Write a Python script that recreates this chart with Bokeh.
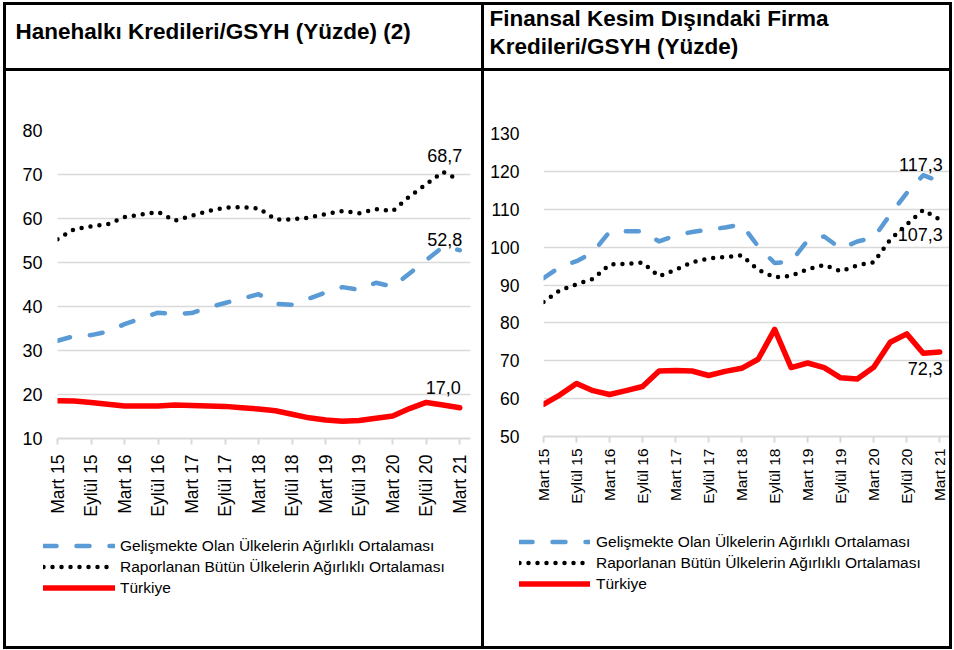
import math
from bokeh.plotting import figure
from bokeh.models import Range1d, FixedTicker, Legend, LegendItem, ColumnDataSource
from bokeh.layouts import row, column
from bokeh.embed import file_html
from bokeh.resources import INLINE
from bokeh.core.properties import value

# ---------------- data ----------------
quarters = list(range(25))  # Mart 15 ... Mart 21, quarterly
tick_labels = ["Mart 15", "Eylül 15", "Mart 16", "Eylül 16", "Mart 17", "Eylül 17",
               "Mart 18", "Eylül 18", "Mart 19", "Eylül 19", "Mart 20", "Eylül 20", "Mart 21"]
series_names = ["Gelişmekte Olan Ülkelerin Ağırlıklı Ortalaması",
                "Raporlanan Bütün Ülkelerin Ağırlıklı Ortalaması",
                "Türkiye"]

title_left = ["Hanehalkı Kredileri/GSYH (Yüzde) (2)"]
title_right = ["Finansal Kesim Dışındaki Firma", "Kredileri/GSYH (Yüzde)"]

hh_em = [32.2, 33.3, 33.5, 34.3, 36.0, 37.3, 38.6, 38.3, 38.5, 39.8, 40.8, 41.8, 42.8,
         40.6, 40.4, 41.8, 43.2, 44.4, 43.8, 45.4, 44.5, 47.5, 50.5, 53.6, 52.8]
hh_all = [55.3, 57.6, 58.2, 58.7, 60.3, 60.9, 61.5, 59.5, 60.6, 61.7, 62.5, 62.6, 62.3,
          59.8, 59.8, 60.2, 61.0, 61.7, 61.2, 62.1, 61.7, 65.0, 67.8, 70.6, 68.7]
hh_tr = [18.6, 18.5, 18.2, 17.8, 17.4, 17.4, 17.4, 17.6, 17.5, 17.4, 17.3, 17.0, 16.7,
         16.3, 15.5, 14.7, 14.2, 13.9, 14.1, 14.6, 15.1, 16.8, 18.2, 17.6, 17.0]
hh_yticks = [10, 20, 30, 40, 50, 60, 70, 80]

fi_em = [91.8, 94.8, 96.3, 98.6, 104.1, 104.2, 104.2, 101.5, 103.1, 104.0, 104.6, 105.2, 106.0,
         100.2, 95.8, 96.2, 101.8, 102.8, 99.6, 101.5, 102.5, 108.6, 114.3, 119.0, 117.3]
fi_all = [85.5, 88.6, 90.2, 91.6, 95.4, 95.6, 95.9, 92.3, 94.0, 96.0, 97.0, 97.4, 97.8,
          94.0, 92.0, 92.4, 94.2, 95.3, 93.6, 95.2, 96.0, 102.0, 106.0, 109.8, 107.3]
fi_tr = [58.5, 61.0, 64.0, 62.1, 61.1, 62.1, 63.2, 67.3, 67.4, 67.3, 66.1, 67.2, 68.0,
         70.4, 78.3, 68.2, 69.4, 68.2, 65.5, 65.2, 68.3, 74.9, 77.1, 72.0, 72.3]
fi_yticks = [50, 60, 70, 80, 90, 100, 110, 120, 130]

# ---------------- styles ----------------
FONT = "Liberation Sans"
BLUE = "#5B9BD5"
RED = "#FF0000"
GRID = "#d9d9d9"
B = "3px solid black"
EM_STYLE = dict(line_color=BLUE, line_width=4.5, line_dash="13 20", line_cap="round", line_join="round")
AL_STYLE = dict(line_color="black", line_width=4.5, line_dash="0 9", line_cap="round", line_join="round")
TR_STYLE = dict(line_color=RED, line_width=5.5, line_cap="round", line_join="round")


def fmt(v):
    return f"{v:.1f}".replace(".", ",")


def blank_fig(w, h, cw, ch, styles):
    p = figure(width=w, height=h, output_backend="svg", toolbar_location=None,
               x_range=Range1d(0, cw), y_range=Range1d(0, ch),
               x_axis_location=None, y_axis_location=None, title=None,
               min_border_left=0, min_border_right=0, min_border_top=0, min_border_bottom=0,
               outline_line_color=None, styles=styles, frame_align=False)
    p.grid.visible = False
    p.border_fill_color = "white"
    p.background_fill_color = "white"
    return p


def title_fig(w, h, cw, ch, lines, xs, ys, styles):
    p = blank_fig(w, h, cw, ch, styles)
    src = ColumnDataSource(dict(x=xs, y=ys, text=lines))
    p.text(x="x", y="y", text="text", source=src, text_font=value(FONT),
           text_font_style="bold", text_font_size=value("22.5px"), text_color="black",
           text_align="left", text_baseline="middle")
    return p


def legend_fig(w, h, cw, ch, loc, standoff, gw, styles):
    p = blank_fig(w, h, cw, ch, styles)
    # legend-only renderers (no visible data points)
    r1 = p.line(x=[math.nan], y=[math.nan], **EM_STYLE)
    r2 = p.line(x=[math.nan], y=[math.nan], **AL_STYLE)
    r3 = p.line(x=[math.nan], y=[math.nan], **TR_STYLE)
    legend = Legend(items=[LegendItem(label=series_names[0], renderers=[r1]),
                           LegendItem(label=series_names[1], renderers=[r2]),
                           LegendItem(label=series_names[2], renderers=[r3])],
                    location=loc, orientation="vertical",
                    glyph_width=gw, glyph_height=21, label_height=21,
                    spacing=0, padding=0, margin=0, label_standoff=standoff,
                    border_line_color=None, background_fill_alpha=0,
                    inactive_fill_alpha=0,
                    label_text_font=FONT, label_text_font_size="15.5px",
                    label_text_color="black")
    p.add_layout(legend)
    return p


def chart(w, h, mbl, mbr, mbt, mbb, x_end, yticks, em, al, tr, xfs, yfs,
          ystand, xstand, lab_xo, lab_yo, styles):
    p = figure(width=w, height=h, output_backend="svg", toolbar_location=None,
               x_range=Range1d(0, x_end), y_range=Range1d(yticks[0], yticks[-1]),
               title=None, min_border_left=mbl, min_border_right=mbr,
               min_border_top=mbt, min_border_bottom=mbb,
               outline_line_color=None, styles=styles, frame_align=False)
    p.background_fill_color = "white"
    p.border_fill_color = "white"

    xa = p.xaxis[0]
    xa.ticker = FixedTicker(ticks=[2 * i for i in range(len(tick_labels))])
    xa.major_label_overrides = {2 * i: lab for i, lab in enumerate(tick_labels)}
    xa.major_label_orientation = math.pi / 2
    xa.axis_line_color = GRID
    xa.axis_line_width = 2
    xa.major_tick_line_color = GRID
    xa.major_tick_line_width = 2
    xa.major_tick_out = 6
    xa.major_tick_in = 0
    xa.minor_tick_line_color = None
    xa.major_label_text_font = FONT
    xa.major_label_text_font_size = xfs
    xa.major_label_text_color = "black"
    xa.major_label_standoff = xstand

    ya = p.yaxis[0]
    ya.ticker = FixedTicker(ticks=yticks)
    ya.axis_line_color = None
    ya.major_tick_line_color = None
    ya.minor_tick_line_color = None
    ya.major_label_text_font = FONT
    ya.major_label_text_font_size = yfs
    ya.major_label_text_color = "black"
    ya.major_label_standoff = ystand

    p.xgrid.visible = False
    p.ygrid.ticker = FixedTicker(ticks=yticks)
    p.ygrid.grid_line_color = GRID
    p.ygrid.grid_line_width = 1.6

    src = ColumnDataSource(dict(x=quarters, em=em, al=al, tr=tr))
    p.line("x", "em", source=src, **EM_STYLE)
    p.line("x", "al", source=src, **AL_STYLE)
    p.line("x", "tr", source=src, **TR_STYLE)

    lsrc = ColumnDataSource(dict(x=[quarters[-1]] * 3, y=[em[-1], al[-1], tr[-1]],
                                 text=[fmt(em[-1]), fmt(al[-1]), fmt(tr[-1])],
                                 xo=lab_xo, yo=lab_yo))
    p.text(x="x", y="y", text="text", source=lsrc, x_offset="xo", y_offset="yo",
           text_font=value(FONT), text_font_size=value("18px"), text_color="black",
           text_align="right", text_baseline="middle")
    return p


# element sizes include the CSS borders; canvases: left 475 wide, right 465 wide
t_l = title_fig(478, 66, 475, 63, title_left, [9], [38],
                {"border-top": B, "border-left": B})
t_r = title_fig(471, 66, 465, 63, title_right, [5, 5], [51, 24],
                {"border-top": B, "border-left": B, "border-right": B})

c_l = chart(478, 452, 51, 14, 59, 85, 24.64, hh_yticks, hh_em, hh_all, hh_tr,
            "17.5px", "18px", 9, 10, [2.5, 2.5, 1], [-11, -25, -20.5],
            {"border-top": B, "border-left": B})
c_r = chart(471, 452, 59, 5, 62, 87, 24.65, fi_yticks, fi_em, fi_all, fi_tr,
            "15.5px", "17.5px", 18, 6, [3, 3, 3], [-17.5, 15, 16.5],
            {"border-top": B, "border-left": B, "border-right": B})

l_l = legend_fig(478, 129, 475, 126, (37, 51), 5, 72,
                 {"border-left": B, "border-bottom": B})
l_r = legend_fig(471, 129, 465, 126, (35, 55), 6, 71,
                 {"border-left": B, "border-right": B, "border-bottom": B})

layout = row(column(t_l, c_l, l_l), column(t_r, c_r, l_r), margin=(2, 0, 0, 3))

open("out.html", "w").write(file_html(layout, INLINE))
